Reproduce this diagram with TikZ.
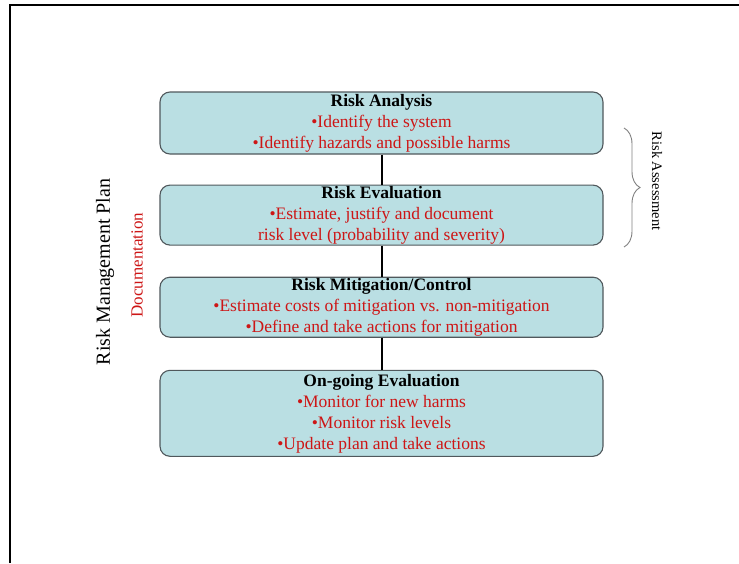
\documentclass[tikz,border=0pt]{standalone}
\usepackage{fontspec}
\setmainfont{Liberation Serif}
\usepackage{xcolor}
\usetikzlibrary{positioning,decorations.pathreplacing}

\definecolor{boxfill}{RGB}{186,223,227}
\definecolor{boxline}{RGB}{80,88,92}
\definecolor{itemred}{RGB}{205,22,22}

\tikzset{
    stage/.style={draw=boxline,fill=boxfill,rounded corners=10pt,line width=1.1pt,
        minimum width=443pt,inner sep=1pt,align=center,
        font=\fontsize{17.5}{21}\selectfont},
    link/.style={line width=2pt},
}
\newcommand{\hd}[1]{\textbf{#1}}
\newcommand{\itm}[1]{\textcolor{itemred}{#1}}

\begin{document}
\begin{tikzpicture}[x=1pt,y=-1pt]
    \useasboundingbox (0,0) rectangle (739,563);
    % frame
    \draw[line width=2pt] (10,563) -- (10,5) -- (739,5);
    % stages
    \node[stage,minimum height=62pt] (analysis) at (381.5,123)
        {\hd{Risk Analysis}\\ \itm{•Identify the system}\\ \itm{•Identify hazards and possible harms}};
    \node[stage,minimum height=60pt,below=30pt of analysis] (evaluation)
        {\hd{Risk Evaluation}\\ \itm{•Estimate, justify and document}\\ \itm{risk level (probability and severity)}};
    \node[stage,minimum height=60pt,below=31pt of evaluation] (mitigation)
        {\hd{Risk Mitigation/Control}\\ \itm{•Estimate costs of mitigation vs. non-mitigation}\\ \itm{•Define and take actions for mitigation}};
    \node[stage,minimum height=86pt,below=32pt of mitigation] (ongoing)
        {\hd{On-going Evaluation}\\ \itm{•Monitor for new harms}\\ \itm{•Monitor risk levels}\\ \itm{•Update plan and take actions}};
    % links
    \draw[link] (analysis) -- (evaluation);
    \draw[link] (evaluation) -- (mitigation);
    \draw[link] (mitigation) -- (ongoing);
    % side labels
    \node[rotate=90,font=\fontsize{20}{24}\selectfont] (plan) at (105,272) {Risk Management Plan};
    \node[rotate=90,text=itemred,font=\fontsize{17}{20}\selectfont] (docs) at (137,265) {Documentation};
    \coordinate (bracetop) at (624,128);
    \coordinate (bracebot) at (624,247);
    \draw[gray,line width=0.9pt,decorate,decoration={brace,amplitude=16pt}] (bracetop) -- (bracebot);
    \node[rotate=-90,font=\fontsize{14.5}{18}\selectfont] (assess) at (657,181) {Risk Assessment};
\end{tikzpicture}
\end{document}
